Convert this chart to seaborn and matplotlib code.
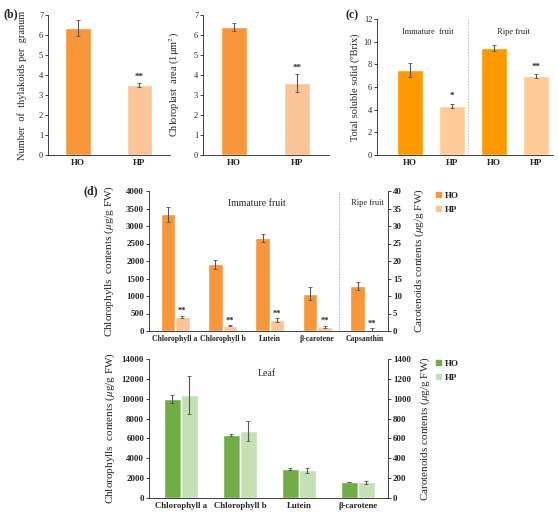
import matplotlib
matplotlib.use("Agg")
import matplotlib.pyplot as plt
from matplotlib.patches import Patch
import numpy as np
import pandas as pd
import seaborn as sns

# ---- data ----
conditions = ["HO", "HP"]
thylakoid_vals = [6.35, 3.50]
thylakoid_err = [0.38, 0.10]
area_vals = [6.40, 3.62]
area_err = [0.22, 0.45]

brix_labels = ["HO", "HP", "HO", "HP"]
brix_vals = [7.50, 4.35, 9.42, 6.95]
brix_err = [0.58, 0.18, 0.25, 0.17]
brix_stars = ["", "*", "", "**"]

fruit_order = ["Chlorophyll a", "Chlorophyll b", "Lutein", "β-carotene", "Capsanthin"]
fruit_chl = ["Chlorophyll a", "Chlorophyll b"]
fruit_chl_ho = [3340, 1910]
fruit_chl_hp = [400, 150]
fruit_chl_ho_err = [215, 130]
fruit_chl_hp_err = [30, 20]
fruit_car = ["Lutein", "β-carotene", "Capsanthin"]
fruit_car_ho = [26.6, 10.7, 12.9]
fruit_car_hp = [3.05, 1.25, 0.4]
fruit_car_ho_err = [1.05, 1.9, 1.1]
fruit_car_hp_err = [0.55, 0.25, 0.35]

leaf_order = ["Chlorophyll a", "Chlorophyll b", "Lutein", "β-carotene"]
leaf_chl = ["Chlorophyll a", "Chlorophyll b"]
leaf_chl_ho = [9970, 6345]
leaf_chl_hp = [10370, 6750]
leaf_chl_ho_err = [450, 130]
leaf_chl_hp_err = [1910, 1040]
leaf_car = ["Lutein", "β-carotene"]
leaf_car_ho = [289, 161]
leaf_car_hp = [279, 160]
leaf_car_ho_err = [10, 4]
leaf_car_hp_err = [27, 15]

# ---- style ----
sns.set_theme(style="ticks")
plt.rcParams["font.family"] = ["Liberation Serif", "DejaVu Serif"]
plt.rcParams["mathtext.fontset"] = "stix"

W, H = 558, 513
fig = plt.figure(figsize=(W / 100, H / 100), dpi=100)


def box(x0, y0, x1, y1):
    return [x0 / W, 1 - y1 / H, (x1 - x0) / W, (y1 - y0) / H]


def style_axis(ax, fs=6, xfs=6.5):
    for s in ["top", "right"]:
        ax.spines[s].set_visible(False)
    for s in ["left", "bottom"]:
        ax.spines[s].set_linewidth(0.6)
        ax.spines[s].set_color("#222222")
    ax.tick_params(axis="y", length=2, width=0.6, labelsize=fs, pad=1.5)
    ax.tick_params(axis="x", length=0, labelsize=xfs, pad=3)
    ax.set_xlabel("")


ERR = dict(fmt="none", ecolor="#555555", elinewidth=0.8, capsize=1.3, capthick=0.6)

# ---- panel (b) ----
b_orange = {"HO": "#F7963A", "HP": "#F9C598"}
for (x0, x1), vals, errs, ylabel, lx in [
    ((48, 170), thylakoid_vals, thylakoid_err, "Number  of  thylakoids per  granum", 27),
    ((203, 329), area_vals, area_err, "Chloroplast  area (1μm$^2$)", 182),
]:
    ax = fig.add_axes(box(x0, 15, x1, 155))
    df = pd.DataFrame({"cond": conditions, "val": vals})
    sns.barplot(data=df, x="cond", y="val", hue="cond", palette=b_orange,
                width=0.41, errorbar=None, legend=False, ax=ax, saturation=1)
    ax.errorbar(range(2), vals, yerr=errs, **ERR)
    ax.set_xlim(-0.49, 1.5)
    ax.set_ylim(0, 7)
    ax.set_yticks(range(8))
    style_axis(ax)
    for t in ax.get_xticklabels():
        t.set_fontweight("bold")
    ax.set_ylabel(ylabel, fontsize=7.5, labelpad=0)
    ax.yaxis.set_label_coords((lx - x0) / (x1 - x0), 0.5)
    ax.annotate("**", (1, vals[1] + errs[1]), xytext=(0, 1.5), textcoords="offset points",
                ha="center", va="bottom", fontsize=6.5, fontweight="bold")
fig.text(4 / W, 1 - 14 / H, "(b)", fontsize=8.5, fontweight="bold", va="center")

# ---- panel (c) ----
c_colors = ["#FF9900", "#FFCC99", "#FF9900", "#FFCC99"]
axc = fig.add_axes(box(377, 19, 553, 155))
dfc = pd.DataFrame({"pos": ["iHO", "iHP", "rHO", "rHP"], "val": brix_vals})
sns.barplot(data=dfc, x="pos", y="val", hue="pos", palette=c_colors, width=0.62,
            errorbar=None, legend=False, ax=axc, saturation=1)
axc.errorbar(range(4), brix_vals, yerr=brix_err, **ERR)
for i, s in enumerate(brix_stars):
    if s:
        axc.annotate(s, (i, brix_vals[i] + brix_err[i]), xytext=(0, 2.5),
                     textcoords="offset points", ha="center", va="bottom",
                     fontsize=6.5, fontweight="bold")
axc.set_xlim(-0.79, 3.4)
axc.set_ylim(0, 12)
axc.set_yticks(range(0, 13, 2))
axc.set_xticks(range(4))
axc.set_xticklabels(brix_labels, fontweight="bold")
style_axis(axc)
axc.axvline(1.37, color="#BBBBBB", lw=0.6, ls=(0, (2, 1.5)))
axc.text(0.43, 10.85, "Immature  fruit", ha="center", va="center", fontsize=6)
axc.text(2.45, 10.85, "Ripe fruit", ha="center", va="center", fontsize=6)
axc.set_ylabel("Total soluble solid (ºBrix)", fontsize=7.5)
axc.yaxis.set_label_coords((360 - 377) / 176, 0.5)
fig.text(345 / W, 1 - 15 / H, "(c)", fontsize=8.5, fontweight="bold", va="center")


# ---- panels (d) fruit and leaf ----
def pigment_panel(y0, y1, order, chl, chl_ho, chl_hp, chl_ho_err, chl_hp_err,
                  car, car_ho, car_hp, car_ho_err, car_hp_err, colors, width,
                  xlim, ymax, ystep, ratio, stars, ylabel_x, xfs):
    ax = fig.add_axes(box(149, y0, 388, y1))
    ax2 = ax.twinx()
    df_chl = pd.DataFrame({"pig": chl * 2, "cond": ["HO"] * len(chl) + ["HP"] * len(chl),
                           "val": chl_ho + chl_hp})
    df_car = pd.DataFrame({"pig": car * 2, "cond": ["HO"] * len(car) + ["HP"] * len(car),
                           "val": car_ho + car_hp})
    sns.barplot(data=df_chl, x="pig", y="val", hue="cond", order=order, hue_order=conditions,
                palette=colors, width=width, errorbar=None, legend=False, ax=ax, saturation=1)
    sns.barplot(data=df_car, x="pig", y="val", hue="cond", order=order, hue_order=conditions,
                palette=colors, width=width, errorbar=None, legend=False, ax=ax2, saturation=1)
    off = width / 4
    xi_chl = np.array([order.index(p) for p in chl])
    xi_car = np.array([order.index(p) for p in car])
    ax.errorbar(xi_chl - off, chl_ho, yerr=chl_ho_err, **ERR)
    ax.errorbar(xi_chl + off, chl_hp, yerr=chl_hp_err, **ERR)
    ax2.errorbar(xi_car - off, car_ho, yerr=car_ho_err, **ERR)
    ax2.errorbar(xi_car + off, car_hp, yerr=car_hp_err, **ERR)
    if stars:
        for xs, v, e, a in [(xi_chl + off, chl_hp, chl_hp_err, ax),
                            (xi_car + off, car_hp, car_hp_err, ax2)]:
            for x, vv, ee in zip(xs, v, e):
                a.annotate("**", (x, vv + ee), xytext=(0, 0.5), textcoords="offset points",
                           ha="center", va="bottom", fontsize=6, fontweight="bold")
    ax.set_xlim(*xlim)
    ax.set_ylim(0, ymax)
    ax.set_yticks(np.arange(0, ymax + 1, ystep))
    ax2.set_ylim(0, ymax / ratio)
    ax2.set_yticks(np.arange(0, ymax / ratio + 0.001, ystep / ratio))
    style_axis(ax, fs=6.5, xfs=xfs)
    ax2.spines["top"].set_visible(False)
    ax2.spines["left"].set_visible(False)
    ax2.spines["bottom"].set_visible(False)
    ax2.spines["right"].set_linewidth(0.6)
    ax2.spines["right"].set_color("#222222")
    ax2.tick_params(axis="y", length=2, width=0.6, labelsize=6.5, pad=1.5)
    ax2.set_xlabel("")
    ax.set_xticks(range(len(order)))
    ax.set_xticklabels(order, fontweight="bold")
    ax.yaxis.set_major_formatter(matplotlib.ticker.FormatStrFormatter("%d"))
    ax2.yaxis.set_major_formatter(matplotlib.ticker.FormatStrFormatter("%d"))
    for t in ax.get_yticklabels() + ax2.get_yticklabels():
        t.set_fontweight("bold")
    ax.set_ylabel("Chlorophylls  contents ($\\mu$g/g FW)", fontsize=8)
    ax.yaxis.set_label_coords((ylabel_x[0] - 149) / 239, 0.5)
    ax2.set_ylabel("Carotenoids contents ($\\mu$g/g FW)", fontsize=8)
    ax2.yaxis.set_label_coords((ylabel_x[1] - 149) / 239, 0.5)
    return ax, ax2


fruit_colors = {"HO": "#F7963A", "HP": "#F9C598"}
axd, axd2 = pigment_panel(191, 331, fruit_order, fruit_chl, fruit_chl_ho, fruit_chl_hp,
                          fruit_chl_ho_err, fruit_chl_hp_err, fruit_car, fruit_car_ho,
                          fruit_car_hp, fruit_car_ho_err, fruit_car_hp_err, fruit_colors,
                          0.61, (-0.55, 4.49), 4000, 500, 100, True, (116, 413), 5.6)
axd.axvline(3.46, color="#999999", lw=0.6, ls=(0, (1, 1)))
axd.text(1.73, 3657, "Immature fruit", ha="center", va="center", fontsize=7)
axd.text(4.05, 3657, "Ripe fruit", ha="center", va="center", fontsize=6)
fig.text(83 / W, 1 - 191 / H, "(d)", fontsize=8.5, fontweight="bold", va="center")
fig.legend(handles=[Patch(color=fruit_colors[c], label=c) for c in conditions],
           loc="upper left", bbox_to_anchor=(428 / W, 1 - 184 / H), frameon=False,
           handlelength=0.5, handleheight=0.5, handletextpad=0.5, labelspacing=0.6,
           prop={"size": 6.5, "weight": "bold"})

leaf_colors = {"HO": "#70AD47", "HP": "#C5E0B4"}
axl, axl2 = pigment_panel(359, 498, leaf_order, leaf_chl, leaf_chl_ho, leaf_chl_hp,
                          leaf_chl_ho_err, leaf_chl_hp_err, leaf_car, leaf_car_ho,
                          leaf_car_hp, leaf_car_ho_err, leaf_car_hp_err, leaf_colors,
                          0.57, (-0.54, 3.51), 14000, 2000, 10, False, (117, 419), 6.3)
axl.text(1.46, 12520, "Leaf", ha="center", va="center", fontsize=7)
fig.legend(handles=[Patch(color=leaf_colors[c], label=c) for c in conditions],
           loc="upper left", bbox_to_anchor=(428 / W, 1 - 352 / H), frameon=False,
           handlelength=0.5, handleheight=0.5, handletextpad=0.5, labelspacing=0.6,
           prop={"size": 6.5, "weight": "bold"})

fig.savefig("out.png", dpi=100)
